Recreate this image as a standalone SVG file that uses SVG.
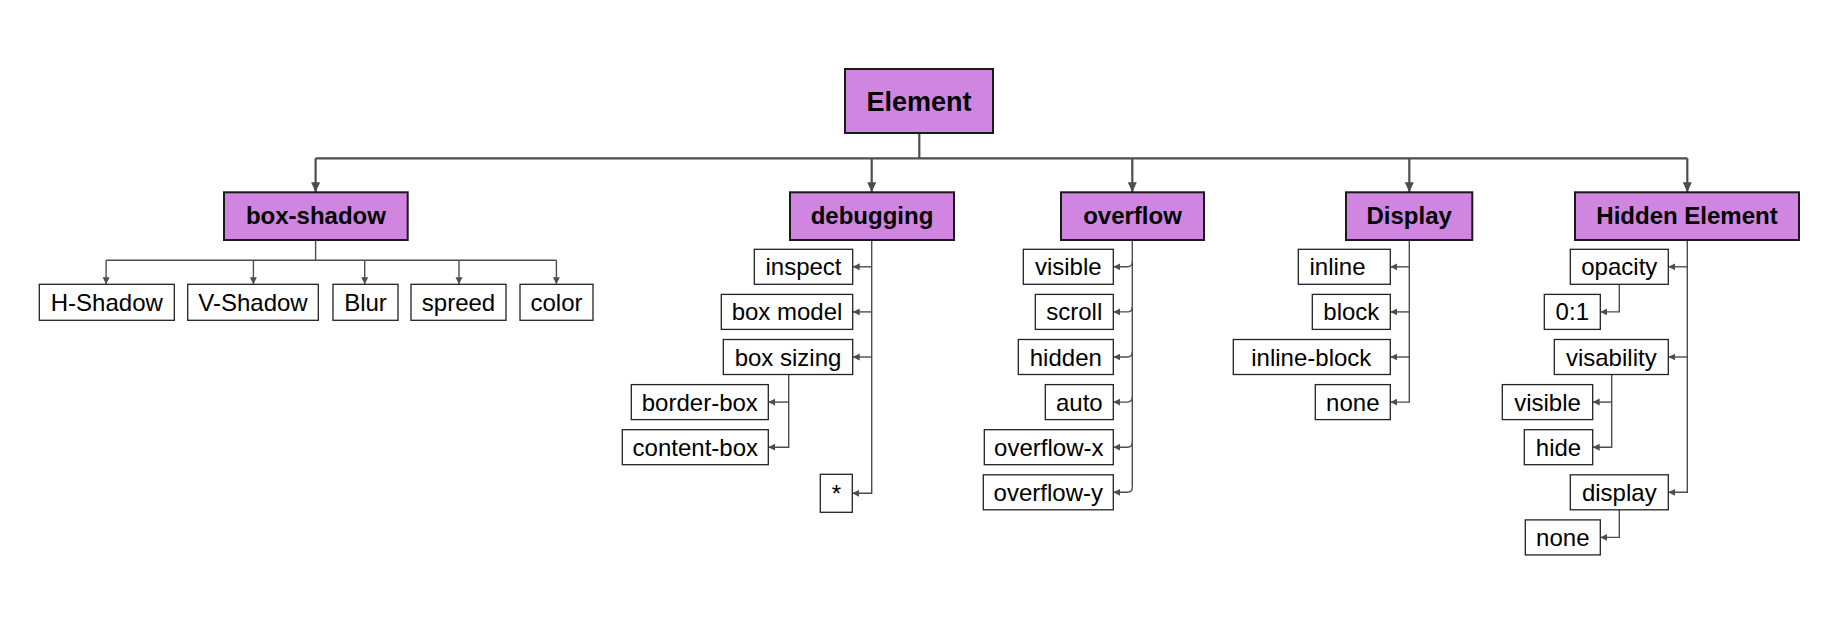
<svg xmlns="http://www.w3.org/2000/svg" width="1835" height="622" viewBox="0 0 1835 622">
<style>
.top{fill:#D086E0;stroke:#1a1a1a;stroke-width:2}
.leaf{fill:#fff;stroke:#222;stroke-width:1.3}
.tt{font-family:"Liberation Sans",Arial,sans-serif;font-weight:bold;font-size:24px;fill:#000;text-anchor:middle}
.et{font-family:"Liberation Sans",Arial,sans-serif;font-weight:bold;font-size:27px;fill:#000;text-anchor:middle}
.lt{font-family:"Liberation Sans",Arial,sans-serif;font-size:24px;fill:#000;text-anchor:middle}
.c{fill:none;stroke:#4d4d4d;stroke-width:1.4}
.cb{fill:none;stroke:#4d4d4d;stroke-width:2.2}
</style>
<defs>
<marker id="ab" markerUnits="userSpaceOnUse" markerWidth="12" markerHeight="12" refX="10" refY="5" orient="auto"><path d="M0,0.5 L10,5 L0,9.5 z" fill="#4d4d4d"/></marker>
<marker id="as" markerUnits="userSpaceOnUse" markerWidth="10" markerHeight="10" refX="7" refY="3.5" orient="auto"><path d="M0,0 L7,3.5 L0,7 z" fill="#4d4d4d"/></marker>
</defs>
<g id="connectors">
<path class="cb" d="M919.3,133 V158.3" stroke-width="3"/>
<path class="cb" d="M315.6,158.3 H1687.3"/>
<path class="cb" d="M315.6,158.3 V192.3" marker-end="url(#ab)"/>
<path class="cb" d="M871.7,158.3 V192.3" marker-end="url(#ab)"/>
<path class="cb" d="M1132.3,158.3 V192.3" marker-end="url(#ab)"/>
<path class="cb" d="M1409.3,158.3 V192.3" marker-end="url(#ab)"/>
<path class="cb" d="M1687.3,158.3 V192.3" marker-end="url(#ab)"/>
<!-- box-shadow -->
<path class="c" d="M315.6,240 V260.3 M106.1,260.3 H556.4"/>
<path class="c" d="M106.1,260.3 V284.3" marker-end="url(#as)"/>
<path class="c" d="M253.4,260.3 V284.3" marker-end="url(#as)"/>
<path class="c" d="M364.7,260.3 V284.3" marker-end="url(#as)"/>
<path class="c" d="M459,260.3 V284.3" marker-end="url(#as)"/>
<path class="c" d="M556.4,260.3 V284.3" marker-end="url(#as)"/>
<!-- debugging -->
<path class="c" d="M871.7,240 V493.3 H852.3" marker-end="url(#as)"/>
<path class="c" d="M871.7,266.8 H852.7" marker-end="url(#as)"/>
<path class="c" d="M871.7,311.9 H852.7" marker-end="url(#as)"/>
<path class="c" d="M871.7,357 H852.7" marker-end="url(#as)"/>
<path class="c" d="M788.7,374.5 V447.2 H768.3" marker-end="url(#as)"/>
<path class="c" d="M788.7,402.1 H768.3" marker-end="url(#as)"/>
<!-- overflow -->
<path class="c" d="M1132.3,240 V487.3"/>
<path class="c" d="M1132.3,261.8 Q1132.3,266.8 1127.3,266.8 H1113.3" marker-end="url(#as)"/>
<path class="c" d="M1132.3,306.9 Q1132.3,311.9 1127.3,311.9 H1113.3" marker-end="url(#as)"/>
<path class="c" d="M1132.3,352 Q1132.3,357 1127.3,357 H1113.3" marker-end="url(#as)"/>
<path class="c" d="M1132.3,397.1 Q1132.3,402.1 1127.3,402.1 H1113.3" marker-end="url(#as)"/>
<path class="c" d="M1132.3,442.2 Q1132.3,447.2 1127.3,447.2 H1113.3" marker-end="url(#as)"/>
<path class="c" d="M1132.3,487.3 Q1132.3,492.3 1127.3,492.3 H1113.3" marker-end="url(#as)"/>
<!-- Display -->
<path class="c" d="M1409.3,240 V402.1 H1390.3" marker-end="url(#as)"/>
<path class="c" d="M1409.3,266.8 H1390.3" marker-end="url(#as)"/>
<path class="c" d="M1409.3,311.9 H1390.3" marker-end="url(#as)"/>
<path class="c" d="M1409.3,357 H1390.3" marker-end="url(#as)"/>
<!-- Hidden Element -->
<path class="c" d="M1687.3,240 V492.3 H1668.3" marker-end="url(#as)"/>
<path class="c" d="M1687.3,266.8 H1668.3" marker-end="url(#as)"/>
<path class="c" d="M1687.3,357 H1668.3" marker-end="url(#as)"/>
<path class="c" d="M1619.3,284.3 V311.9 H1600.3" marker-end="url(#as)"/>
<path class="c" d="M1611.7,374.5 V447.2 H1592.7" marker-end="url(#as)"/>
<path class="c" d="M1611.7,402.1 H1592.7" marker-end="url(#as)"/>
<path class="c" d="M1619.3,510 V537.4 H1600.3" marker-end="url(#as)"/>
</g>
<g id="n-element"><rect class="top" x="845" y="69" width="148" height="64"/><text class="et" x="919" y="111">Element</text></g>
<g id="n-boxshadow"><rect class="top" x="224" y="192.3" width="183.7" height="47.7"/><text class="tt" x="315.9" y="224.2">box-shadow</text></g>
<g id="n-debugging"><rect class="top" x="790" y="192.3" width="164" height="47.7"/><text class="tt" x="872" y="224.2">debugging</text></g>
<g id="n-overflow"><rect class="top" x="1061" y="192.3" width="143" height="47.7"/><text class="tt" x="1132.5" y="224.2">overflow</text></g>
<g id="n-display"><rect class="top" x="1346" y="192.3" width="126.3" height="47.7"/><text class="tt" x="1409.2" y="224.2">Display</text></g>
<g id="n-hidden"><rect class="top" x="1575" y="192.3" width="224" height="47.7"/><text class="tt" x="1687" y="224.2">Hidden Element</text></g>

<g id="n-hshadow"><rect class="leaf" x="39.3" y="284.3" width="135" height="36"/><text class="lt" x="106.8" y="310.8">H-Shadow</text></g>
<g id="n-vshadow"><rect class="leaf" x="187.7" y="284.3" width="130.6" height="36"/><text class="lt" x="253" y="310.8">V-Shadow</text></g>
<g id="n-blur"><rect class="leaf" x="333" y="284.3" width="65" height="36"/><text class="lt" x="365.5" y="310.8">Blur</text></g>
<g id="n-spreed"><rect class="leaf" x="411" y="284.3" width="95" height="36"/><text class="lt" x="458.5" y="310.8">spreed</text></g>
<g id="n-color"><rect class="leaf" x="520" y="284.3" width="73" height="36"/><text class="lt" x="556.5" y="310.8">color</text></g>

<g id="n-inspect"><rect class="leaf" x="754.3" y="249.3" width="98.4" height="35"/><text class="lt" x="803.5" y="275.3">inspect</text></g>
<g id="n-boxmodel"><rect class="leaf" x="721.3" y="294.4" width="131.4" height="35"/><text class="lt" x="787" y="320.4">box model</text></g>
<g id="n-boxsizing"><rect class="leaf" x="723.3" y="339.5" width="129.4" height="35"/><text class="lt" x="788" y="365.5">box sizing</text></g>
<g id="n-borderbox"><rect class="leaf" x="631.3" y="384.6" width="137" height="35"/><text class="lt" x="699.8" y="410.6">border-box</text></g>
<g id="n-contentbox"><rect class="leaf" x="622.3" y="429.7" width="146" height="35"/><text class="lt" x="695.3" y="455.7">content-box</text></g>
<g id="n-star"><rect class="leaf" x="820.3" y="474.3" width="32" height="38"/><text class="lt" x="836.3" y="502">*</text></g>

<g id="n-ovisible"><rect class="leaf" x="1023.3" y="249.3" width="90" height="35"/><text class="lt" x="1068.3" y="275.3">visible</text></g>
<g id="n-scroll"><rect class="leaf" x="1035.3" y="294.4" width="78" height="35"/><text class="lt" x="1074.3" y="320.4">scroll</text></g>
<g id="n-hidden2"><rect class="leaf" x="1018.3" y="339.5" width="95" height="35"/><text class="lt" x="1065.8" y="365.5">hidden</text></g>
<g id="n-auto"><rect class="leaf" x="1045.3" y="384.6" width="68" height="35"/><text class="lt" x="1079.3" y="410.6">auto</text></g>
<g id="n-overflowx"><rect class="leaf" x="984.3" y="429.7" width="129" height="35"/><text class="lt" x="1048.8" y="455.7">overflow-x</text></g>
<g id="n-overflowy"><rect class="leaf" x="983.3" y="474.8" width="130" height="35"/><text class="lt" x="1048.3" y="500.8">overflow-y</text></g>

<g id="n-inline"><rect class="leaf" x="1298.3" y="249.3" width="92" height="35"/><text class="lt" x="1337.5" y="275.3">inline</text></g>
<g id="n-block"><rect class="leaf" x="1312.3" y="294.4" width="78" height="35"/><text class="lt" x="1351.3" y="320.4">block</text></g>
<g id="n-inlineblock"><rect class="leaf" x="1233.3" y="339.5" width="157" height="35"/><text class="lt" x="1311.3" y="365.5">inline-block</text></g>
<g id="n-dnone"><rect class="leaf" x="1315.3" y="384.6" width="75" height="35"/><text class="lt" x="1352.8" y="410.6">none</text></g>

<g id="n-opacity"><rect class="leaf" x="1570.3" y="249.3" width="98" height="35"/><text class="lt" x="1619.3" y="275.3">opacity</text></g>
<g id="n-01"><rect class="leaf" x="1544.3" y="294.4" width="56" height="35"/><text class="lt" x="1572.3" y="320.4">0:1</text></g>
<g id="n-visability"><rect class="leaf" x="1554.3" y="339.5" width="114" height="35"/><text class="lt" x="1611.3" y="365.5">visability</text></g>
<g id="n-hvisible"><rect class="leaf" x="1502.3" y="384.6" width="90.4" height="35"/><text class="lt" x="1547.5" y="410.6">visible</text></g>
<g id="n-hide"><rect class="leaf" x="1524.3" y="429.7" width="68.4" height="35"/><text class="lt" x="1558.5" y="455.7">hide</text></g>
<g id="n-hdisplay"><rect class="leaf" x="1570.3" y="474.8" width="98" height="35"/><text class="lt" x="1619.3" y="500.8">display</text></g>
<g id="n-hnone"><rect class="leaf" x="1525.3" y="519.9" width="75" height="35"/><text class="lt" x="1562.8" y="545.9">none</text></g>
</svg>
